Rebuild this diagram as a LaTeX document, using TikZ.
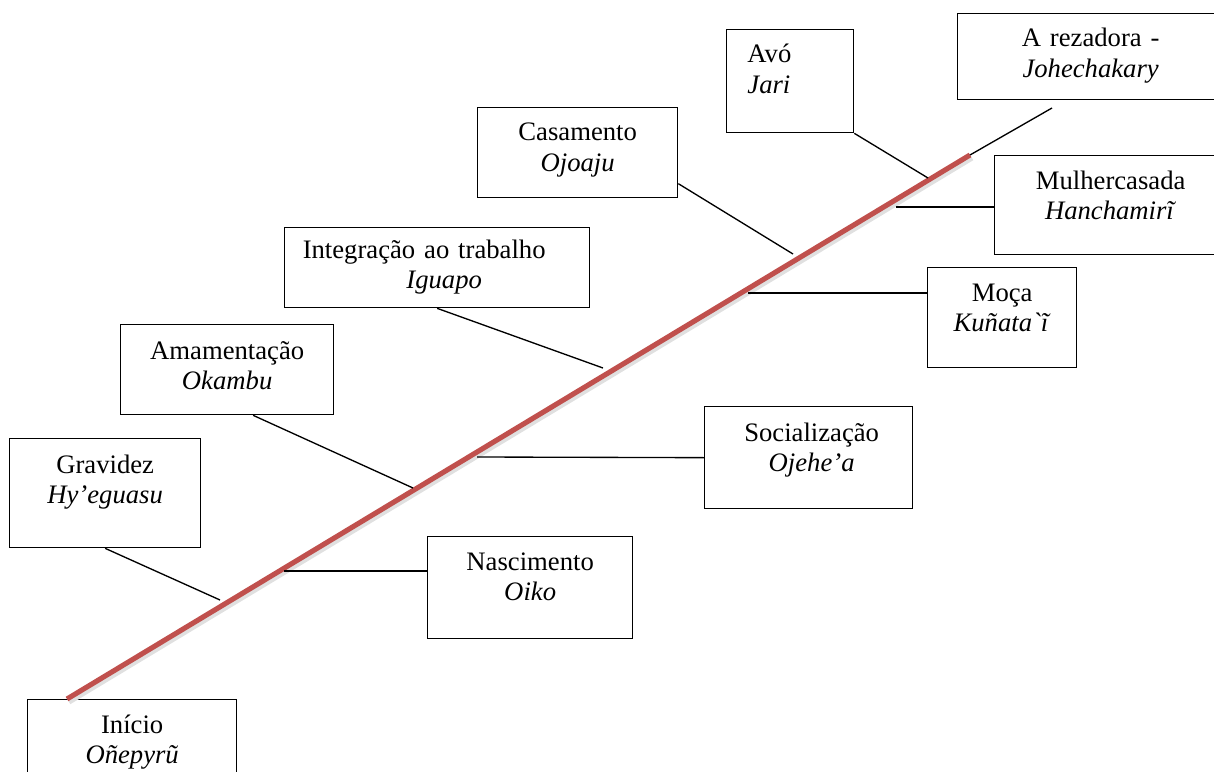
\documentclass[tikz,border=0pt]{standalone}
\usepackage{fontspec}
\setmainfont{Liberation Serif}
\usepackage{xcolor}
\definecolor{spinered}{RGB}{192,80,77}
\tikzset{
  stagebox/.style={draw, line width=0.6pt, inner sep=0pt, anchor=north west},
  box size/.style 2 args={minimum width=#1*0.45pt, minimum height=#2*0.45pt},
  stagetext/.style={inner sep=0pt, anchor=base, text width=7cm, align=center,
    font=\fontsize{12}{13.5}\selectfont},
  branch/.style={line width=0.6pt},
  spine/.style={line width=2.3pt, spinered},
}

\begin{document}
\begin{tikzpicture}[x=0.45pt, y=-0.45pt]
	\useasboundingbox (0,0) rectangle (1214,772);

	% boxes
	\node[stagebox, box size={209}{106}] (inicio) at (27,699) {};
	\node[stagebox, box size={191}{109}] (gravidez) at (9,438) {};
	\node[stagebox, box size={213}{90}] (amamentacao) at (120,324) {};
	\node[stagebox, box size={305}{80}] (integracao) at (284,227) {};
	\node[stagebox, box size={200}{90}] (casamento) at (477,107) {};
	\node[stagebox, box size={127}{103}] (avo) at (726,29) {};
	\node[stagebox, box size={266}{86}] (rezadora) at (957,13) {};
	\node[stagebox, box size={232}{99}] (mulher) at (994,155) {};
	\node[stagebox, box size={149}{100}] (moca) at (927,267) {};
	\node[stagebox, box size={208}{102}] (socializacao) at (704,406) {};
	\node[stagebox, box size={205}{102}] (nascimento) at (427,536) {};

	% texts
	\node[stagetext] (inicio txt) at ([shift={(0,34)}]inicio.north) {Início\\\textit{Oñepyrũ}};
	\node[stagetext] (gravidez txt) at ([shift={(0,35)}]gravidez.north) {Gravidez\\\textit{Hy’eguasu}};
	\node[stagetext] (amamentacao txt) at ([shift={(0,35)}]amamentacao.north) {Amamentação\\\textit{Okambu}};
	\node[stagetext] (integracao txt) at ([shift={(-13,31)}]integracao.north) {Integração ao trabalho\\\hspace*{18pt}\textit{Iguapo}};
	\node[stagetext] (casamento txt) at ([shift={(0,34)}]casamento.north) {Casamento\\\textit{Ojoaju}};
	\node[stagetext, align=left, anchor=base west] (avo txt) at ([shift={(21,34)}]avo.north west) {Avó\\\textit{Jari}};
	\node[stagetext] (rezadora txt) at ([shift={(0,34)}]rezadora.north) {A rezadora -\\\textit{Johechakary}};
	\node[stagetext] (mulher txt) at ([shift={(0,34)}]mulher.north) {Mulhercasada\\\textit{Hanchamirĩ}};
	\node[stagetext] (moca txt) at ([shift={(0,34)}]moca.north) {Moça\\\textit{Kuñata\textasciigrave ĩ}};
	\node[stagetext] (socializacao txt) at ([shift={(3,35)}]socializacao.north) {Socialização\\\textit{Ojehe’a}};
	\node[stagetext] (nascimento txt) at ([shift={(0,34)}]nascimento.north) {Nascimento\\\textit{Oiko}};

	% spine
	\coordinate (tail) at (67,699);
	\coordinate (head) at (970,155);
	\coordinate (tip) at (1052,108);
	\draw[line width=2.3pt, black!12] ([shift={(2,3)}]tail) -- ([shift={(2,3)}]head);
	\draw[spine] (tail) -- (head);
	\draw[branch] (head) -- (tip);

	% branches
	\coordinate (on gravidez) at (220,600);
	\coordinate (on nascimento) at (284,571);
	\coordinate (on amamentacao) at (413,488);
	\coordinate (on socializacao) at (477,457);
	\coordinate (on integracao) at (603,368);
	\coordinate (on moca) at (748,293);
	\coordinate (on casamento) at (793,254);
	\coordinate (on mulher) at (896,207);
	\coordinate (on avo) at (928,178);
	\draw[branch] (gravidez.south) -- (on gravidez);
	\draw[branch] (on nascimento) -- (nascimento.west |- on nascimento);
	\draw[branch] ([shift={(26,0)}]amamentacao.south) -- (on amamentacao);
	\draw[branch] (on socializacao) -- (socializacao.west);
	\draw[branch] (integracao.south) -- (on integracao);
	\draw[branch] (on moca) -- (moca.west |- on moca);
	\draw[branch] ([shift={(0,31)}]casamento.east) -- (on casamento);
	\draw[branch] (on mulher) -- (mulher.west |- on mulher);
	\draw[branch] (avo.south east) -- (on avo);
\end{tikzpicture}
\end{document}
